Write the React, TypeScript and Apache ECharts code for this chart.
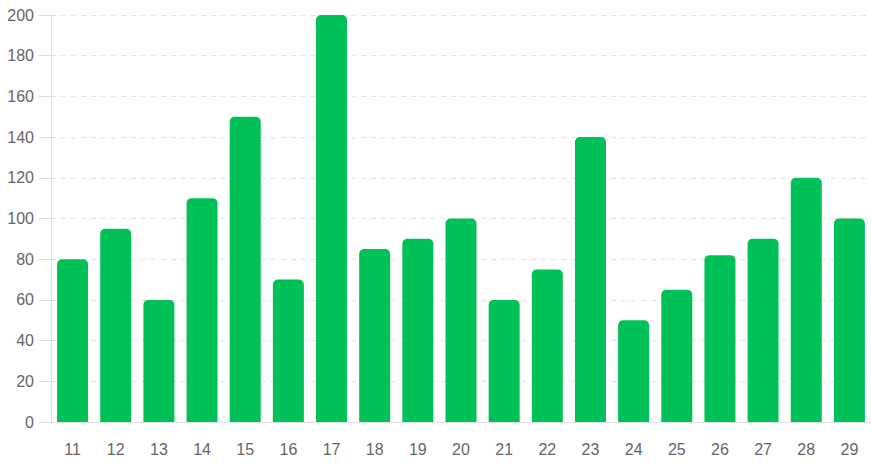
import React, { useEffect, useRef } from "react";
import * as echarts from "echarts";

const categories = ["11","12","13","14","15","16","17","18","19","20","21","22","23","24","25","26","27","28","29"];
const values = [80, 95, 60, 110, 150, 70, 200, 85, 90, 100, 60, 75, 140, 50, 65, 82, 90, 120, 100];

export default function App() {
  const ref = useRef<HTMLDivElement>(null);
  useEffect(() => {
    document.body.style.margin = "0";
    const chart = echarts.init(ref.current!, null, { renderer: "svg" });
    chart.setOption({
      animation: false,
      grid: { left: 51, right: 0, top: 15, bottom: 43, containLabel: false },
      xAxis: {
        type: "category",
        data: categories,
        axisLine: { lineStyle: { color: "#e0e0e0" } },
        axisTick: { show: false },
        axisLabel: { color: "#666", fontSize: 16, margin: 19, fontFamily: "Liberation Sans, Arial, sans-serif" },
      },
      yAxis: {
        type: "value",
        min: 0,
        max: 200,
        interval: 20,
        axisLine: { show: true, lineStyle: { color: "#e0e0e0" } },
        axisTick: { show: true, length: 12, lineStyle: { color: "#dcdcdc" } },
        axisLabel: { color: "#666", fontSize: 16, margin: 17, fontFamily: "Liberation Sans, Arial, sans-serif" },
        splitLine: { show: true, lineStyle: { color: "#e3e3e3", type: [5, 5] } },
      },
      series: [
        {
          type: "bar",
          data: values,
          barWidth: 31,
          itemStyle: { color: "#00C157", borderRadius: [5, 5, 0, 0] },
        },
      ],
    });
    return () => chart.dispose();
  }, []);
  return <div ref={ref} style={{ width: 871, height: 465 }} />;
}
